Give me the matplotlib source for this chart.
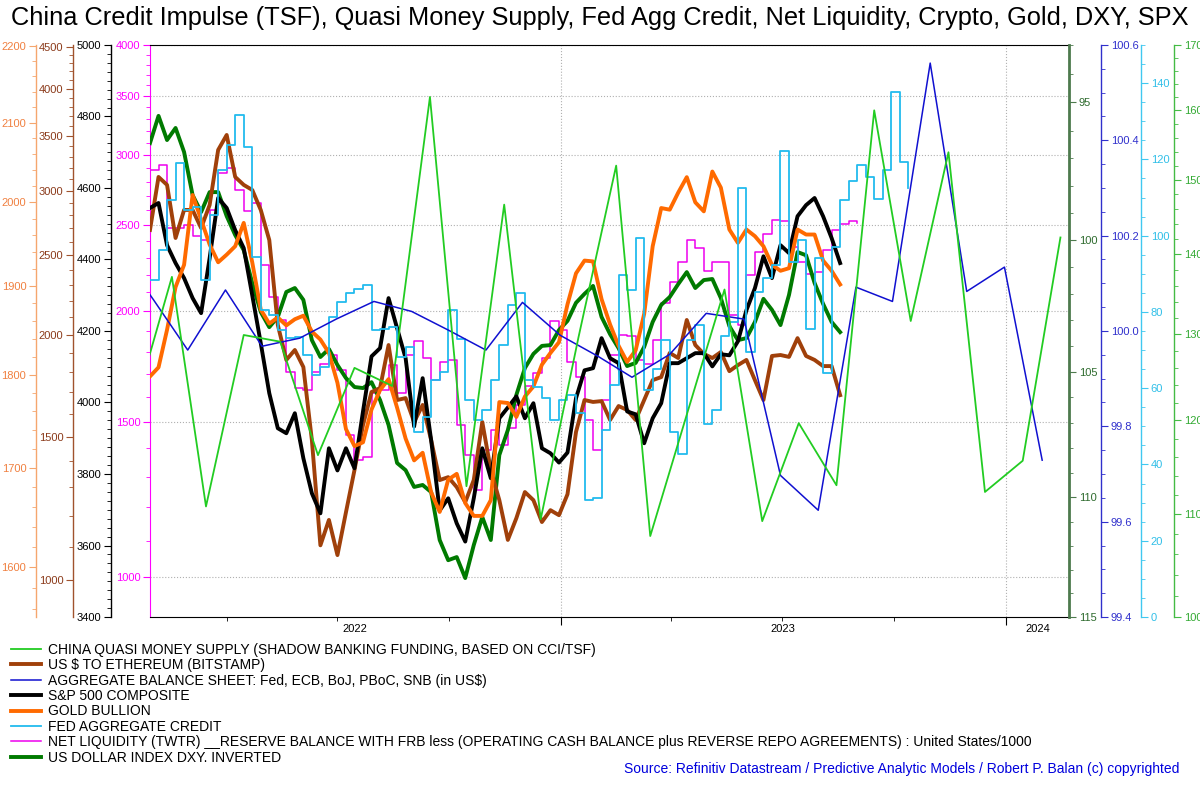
import matplotlib
matplotlib.use("Agg")
import matplotlib.pyplot as plt
import matplotlib.dates as mdates
from matplotlib.ticker import FixedLocator, MultipleLocator, FuncFormatter, NullFormatter
import pandas as pd

plt.rcParams['font.family'] = ['Liberation Sans', 'DejaVu Sans']

# weekly series, first week 2022-01-28
spx = [4544, 4558, 4440, 4390, 4348, 4292, 4250, 4404, 4572, 4544,
       4482, 4432, 4300, 4166, 4026, 3928, 3914, 3970, 3844, 3746,
       3690, 3872, 3810, 3872, 3816, 3975, 4129, 4152, 4292, 4208,
       4124, 3933, 4068, 3894, 3698, 3732, 3662, 3611, 3732, 3872,
       3788, 3956, 3986, 4017, 3956, 3998, 3872, 3858, 3832, 3860,
       4012, 4090, 4096, 4180, 4124, 4110, 3975, 3967, 3886, 3956,
       3998, 4110, 4110, 4124, 4138, 4138, 4101, 4135, 4132, 4171,
       4258, 4320, 4409, 4348, 4440, 4418, 4521, 4552, 4572, 4521,
       4460, 4390]
eth = [2686, 3119, 3050, 2626, 2842, 2842, 2701, 2882, 3366, 3511,
       3119, 3050, 3007, 2842, 2611, 2055, 1862, 1915, 1825, 1485,
       1104, 1186, 1074, 1212, 1365, 1550, 1701, 1720, 1942, 1663,
       1672, 1563, 1640, 1485, 1327, 1338, 1301, 1247, 1327, 1563,
       1365, 1254, 1121, 1192, 1283, 1254, 1179, 1219, 1202, 1275,
       1520, 1663, 1654, 1658, 1572, 1635, 1617, 1572, 1663, 1759,
       1774, 1899, 1872, 2084, 1942, 1894, 1872, 1904, 1804, 1835,
       1862, 1759, 1663, 1883, 1888, 1878, 1980, 1883, 1862, 1830,
       1830, 1686]
gold = [1798, 1808, 1850, 1899, 1925, 2009, 1979, 1949, 1928, 1937,
        1947, 1975, 1928, 1873, 1857, 1864, 1855, 1862, 1866, 1848,
        1839, 1824, 1791, 1741, 1723, 1727, 1762, 1783, 1795, 1764,
        1731, 1708, 1716, 1675, 1655, 1688, 1694, 1664, 1651, 1651,
        1667, 1770, 1769, 1754, 1776, 1787, 1811, 1824, 1836, 1879,
        1915, 1930, 1929, 1885, 1856, 1832, 1814, 1827, 1868, 1947,
        1993, 1991, 2012, 2031, 2000, 1989, 2038, 2018, 1967, 1951,
        1967, 1959, 1947, 1925, 1918, 1921, 1967, 1961, 1961, 1930,
        1918, 1902]
dxy = [96.45, 95.48, 96.34, 95.91, 96.77, 98.33, 98.95, 98.22, 98.22, 99.10,
       99.80, 100.36, 101.59, 102.69, 103.27, 102.88, 101.93, 101.78, 102.23, 103.77,
       104.42, 104.11, 104.73, 105.24, 105.59, 105.63, 105.40, 106.10, 107.09, 108.61,
       108.90, 109.58, 109.50, 109.79, 111.76, 112.60, 112.47, 113.35, 111.97, 110.81,
       111.76, 108.29, 107.29, 105.90, 104.85, 104.30, 103.99, 103.96, 103.38, 103.03,
       102.34, 102.00, 101.70, 102.88, 103.54, 104.08, 104.77, 104.65, 104.03, 103.07,
       102.42, 102.12, 101.63, 101.18, 101.78, 101.48, 101.44, 102.16, 103.23, 103.77,
       103.69, 103.07, 102.19, 102.61, 103.19, 102.04, 100.43, 100.55, 101.59, 102.38,
       103.07, 103.46]
net_liq = [2889, 2927, 2485, 2485, 2504, 2433, 2408, 2603, 2867, 2905,
           2742, 2596, 2651, 2256, 2076, 1955, 1707, 1638, 1629, 1707,
           1743, 1785, 1716, 1447, 1357, 1368, 1617, 1629, 1738, 1617,
           1785, 1851, 1771, 1672, 1752, 1761, 1488, 1376, 1257, 1394,
           1469, 1413, 1477, 1567, 1647, 1703, 1771, 1950, 1905, 1752,
           1685, 1507, 1394, 1588, 1785, 1879, 1874, 1761, 1743, 1856,
           2044, 2158, 2274, 2408, 2359, 2221, 2274, 2274, 1981, 1930,
           2198, 2333, 2447, 2536, 2529, 2364, 2274, 2204, 2215, 2346,
           2472, 2510, 2529, 2517]
fed_credit = [88.4, 96.2, 109.3, 119.0, 106.7, 107.5, 88.4, 105.4, 117.2, 123.8,
              131.6, 123.2, 94.4, 80.5, 79.2, 75.3, 73.2, 73.4, 68.7, 63.5,
              65.6, 78.7, 82.6, 85.0, 86.0, 87.1, 75.3, 75.5, 76.0, 68.2,
              70.8, 48.5, 52.4, 62.1, 64.2, 80.5, 72.9, 56.9, 51.7, 54.3,
              62.1, 71.3, 81.8, 85.0, 62.1, 60.3, 57.4, 51.7, 56.9, 58.2,
              53.5, 30.7, 31.2, 49.0, 60.8, 89.7, 85.7, 99.4, 59.5, 65.0,
              72.6, 48.5, 42.7, 72.6, 76.6, 50.6, 54.3, 73.7, 77.3, 112.5,
              69.5, 85.2, 88.9, 92.3, 122.2, 93.1, 98.8, 75.5, 94.1, 64.0,
              97.0, 109.3, 114.3, 118.5, 115.4, 109.6, 117.2, 137.7, 119.3, 112.5]
# month-end, from 2021-12-31
agg_bs = [100.178, 100.065, 99.960, 100.086, 99.968, 99.985, 100.025, 100.062, 100.041,
          100.002, 99.960, 100.060, 99.991, 99.947, 99.903, 99.951, 100.037, 100.025,
          99.697, 99.624, 100.092, 100.062, 100.562, 100.083, 100.134, 99.729]
# mid-month, from 2022-01-15
china_qm = [121.3, 137.1, 110.8, 129.9, 129.1, 116.2, 126.0, 123.9, 162.0, 112.9,
            146.6, 109.5, 129.6, 152.0, 107.8, 121.1, 135.5, 109.3, 119.7, 113.0,
            160.0, 131.6, 153.9, 112.3, 115.6, 142.2]

legend_labels = [
    "CHINA QUASI MONEY SUPPLY (SHADOW BANKING FUNDING, BASED ON CCI/TSF)",
    r"US \$ TO ETHEREUM (BITSTAMP)",
    r"AGGREGATE BALANCE SHEET: Fed, ECB, BoJ, PBoC, SNB (in US\$)",
    "S&P 500 COMPOSITE",
    "GOLD BULLION",
    "FED AGGREGATE CREDIT",
    "NET LIQUIDITY (TWTR) __RESERVE BALANCE WITH FRB less (OPERATING CASH BALANCE plus "
    "REVERSE REPO AGREEMENTS) : United States/1000",
    "US DOLLAR INDEX DXY. INVERTED",
]
title = ("China Credit Impulse (TSF), Quasi Money Supply, Fed Agg Credit, "
         "Net Liquidity, Crypto, Gold, DXY, SPX")


def weekly(vals):
    return pd.date_range('2022-01-28', periods=len(vals), freq='7D')


bs_dates = pd.date_range('2021-12-31', periods=len(agg_bs), freq=pd.offsets.MonthEnd(1))
cn_dates = pd.date_range('2022-01-15', periods=len(china_qm), freq=pd.DateOffset(months=1))

fig = plt.figure(figsize=(12, 7.85), dpi=100)
ax = fig.add_axes([0.125, 0.214, 0.7658, 0.7287])
x0, x1 = pd.Timestamp('2022-01-28'), pd.Timestamp('2024-02-22')
LS = 8


def side_axis(side, pos, color, labcolor, lw=1.0):
    t = ax.twinx()
    t.patch.set_visible(False)
    for s in ('top', 'bottom', 'left', 'right'):
        t.spines[s].set_visible(False)
    t.spines[side].set_visible(True)
    t.spines[side].set_position(('axes', pos))
    t.spines[side].set_color(color)
    t.spines[side].set_linewidth(lw)
    t.yaxis.set_ticks_position(side)
    t.tick_params(axis='y', which='both', colors=color, labelcolor=labcolor,
                  labelsize=LS, direction='out', pad=2)
    t.tick_params(axis='y', which='major', length=5)
    t.tick_params(axis='y', which='minor', length=3)
    return t


def set_ticks(a, major, minor, fmt='{:g}'):
    a.yaxis.set_major_locator(FixedLocator(major))
    a.yaxis.set_minor_locator(minor)
    a.yaxis.set_major_formatter(FuncFormatter(lambda v, p: fmt.format(v)))
    a.yaxis.set_minor_formatter(NullFormatter())


# host axis: net liquidity (magenta, log)
ax.set_yscale('log')
ax.set_ylim(902, 4000)
set_ticks(ax, [1000, 1500, 2000, 2500, 3000, 3500, 4000], MultipleLocator(100))
ax.spines['right'].set_visible(False)
ax.spines['left'].set_color('#ff00ff')
ax.tick_params(axis='y', which='both', colors='#ff00ff', labelsize=LS, pad=2)
ax.tick_params(axis='y', which='major', length=5)
ax.tick_params(axis='y', which='minor', length=3)
ax.plot(weekly(net_liq), net_liq, color='#ee00ee', lw=1.1, drawstyle='steps-post')

# DXY inverted (right, log)
a_dxy = side_axis('right', 1.0, '#4d7a4d', '#2e6b2e', lw=2)
a_dxy.set_yscale('log')
a_dxy.set_ylim(115, 93)
set_ticks(a_dxy, [95, 100, 105, 110, 115], MultipleLocator(1))
a_dxy.plot(weekly(dxy), dxy, color='#007a00', lw=2.8)

# Ethereum (left, log)
a_eth = side_axis('left', -0.0838, '#a0522d', '#8b3a1a')
a_eth.set_yscale('log')
a_eth.set_ylim(902, 4525)
set_ticks(a_eth, [1000, 1500, 2000, 2500, 3000, 3500, 4000, 4500], MultipleLocator(100))
a_eth.plot(weekly(eth), eth, color='#a0400a', lw=2.8)

# S&P 500 (left, linear)
a_spx = side_axis('left', -0.0424, 'black', 'black')
a_spx.set_ylim(3400, 5000)
set_ticks(a_spx, list(range(3400, 5001, 200)), MultipleLocator(25))
a_spx.plot(weekly(spx), spx, color='black', lw=2.8)

# Gold (left, log)
a_gold = side_axis('left', -0.124, '#f5a66e', '#f08040')
a_gold.set_yscale('log')
a_gold.set_ylim(1552, 2202)
set_ticks(a_gold, [1600, 1700, 1800, 1900, 2000, 2100, 2200], MultipleLocator(20))
a_gold.plot(weekly(gold), gold, color='#ff6a00', lw=2.8)

# Fed aggregate credit (right, linear)
a_fed = side_axis('right', 1.0783, '#40c8f0', '#30bfe8')
a_fed.set_ylim(0, 150)
set_ticks(a_fed, list(range(0, 141, 20)), MultipleLocator(5))
a_fed.plot(weekly(fed_credit), fed_credit, color='#22bbee', lw=1.3, drawstyle='steps-post')

# Aggregate balance sheet (right, linear)
a_bs = side_axis('right', 1.0348, '#3030cc', '#3030cc')
a_bs.set_ylim(99.4, 100.6)
set_ticks(a_bs, [99.4, 99.6, 99.8, 100.0, 100.2, 100.4, 100.6], MultipleLocator(0.05), '{:.1f}')
a_bs.plot(bs_dates, agg_bs, color='#1010d0', lw=1.1)

# China quasi money (right, log)
a_cn = side_axis('right', 1.1143, '#44bb44', '#33aa33')
a_cn.set_yscale('log')
a_cn.set_ylim(100, 170)
set_ticks(a_cn, list(range(100, 171, 10)), MultipleLocator(2))
a_cn.plot(cn_dates, china_qm, color='#22cc22', lw=1.3)

# x axis
ax.set_xlim(x0, x1)
ax.xaxis.set_major_locator(mdates.YearLocator())
ax.xaxis.set_minor_locator(mdates.MonthLocator(bymonth=[4, 7, 10]))
ax.xaxis.set_major_formatter(NullFormatter())
ax.tick_params(axis='x', which='major', length=6, direction='out')
ax.tick_params(axis='x', which='minor', length=3, direction='out')
ax.grid(True, which='major', ls=':', color='#b0b0b0', lw=0.8)
for yr in (2022, 2023, 2024):
    s = max(pd.Timestamp(f'{yr}-01-01'), x0)
    e = min(pd.Timestamp(f'{yr}-12-31'), x1)
    ax.text(s + (e - s) / 2, -0.012, str(yr), transform=ax.get_xaxis_transform(),
            ha='center', va='top', fontsize=8)

# legend
handles = [a_cn.lines[0], a_eth.lines[0], a_bs.lines[0], a_spx.lines[0],
           a_gold.lines[0], a_fed.lines[0], ax.lines[0], a_dxy.lines[0]]
fig.legend(handles, legend_labels, loc='upper left', bbox_to_anchor=(0.009, 0.181),
           frameon=False, fontsize=10, handlelength=2.2, handletextpad=0.45,
           labelspacing=0.1, borderaxespad=0, borderpad=0)

fig.text(0.5, 0.977, title, ha='center', va='center', fontsize=18.3)
fig.text(0.983, 0.012, "Source: Refinitiv Datastream / Predictive Analytic Models / Robert P. Balan (c) copyrighted",
         ha='right', va='bottom', color='#0000dd', fontsize=10)

fig.savefig('out.png', dpi=100)
